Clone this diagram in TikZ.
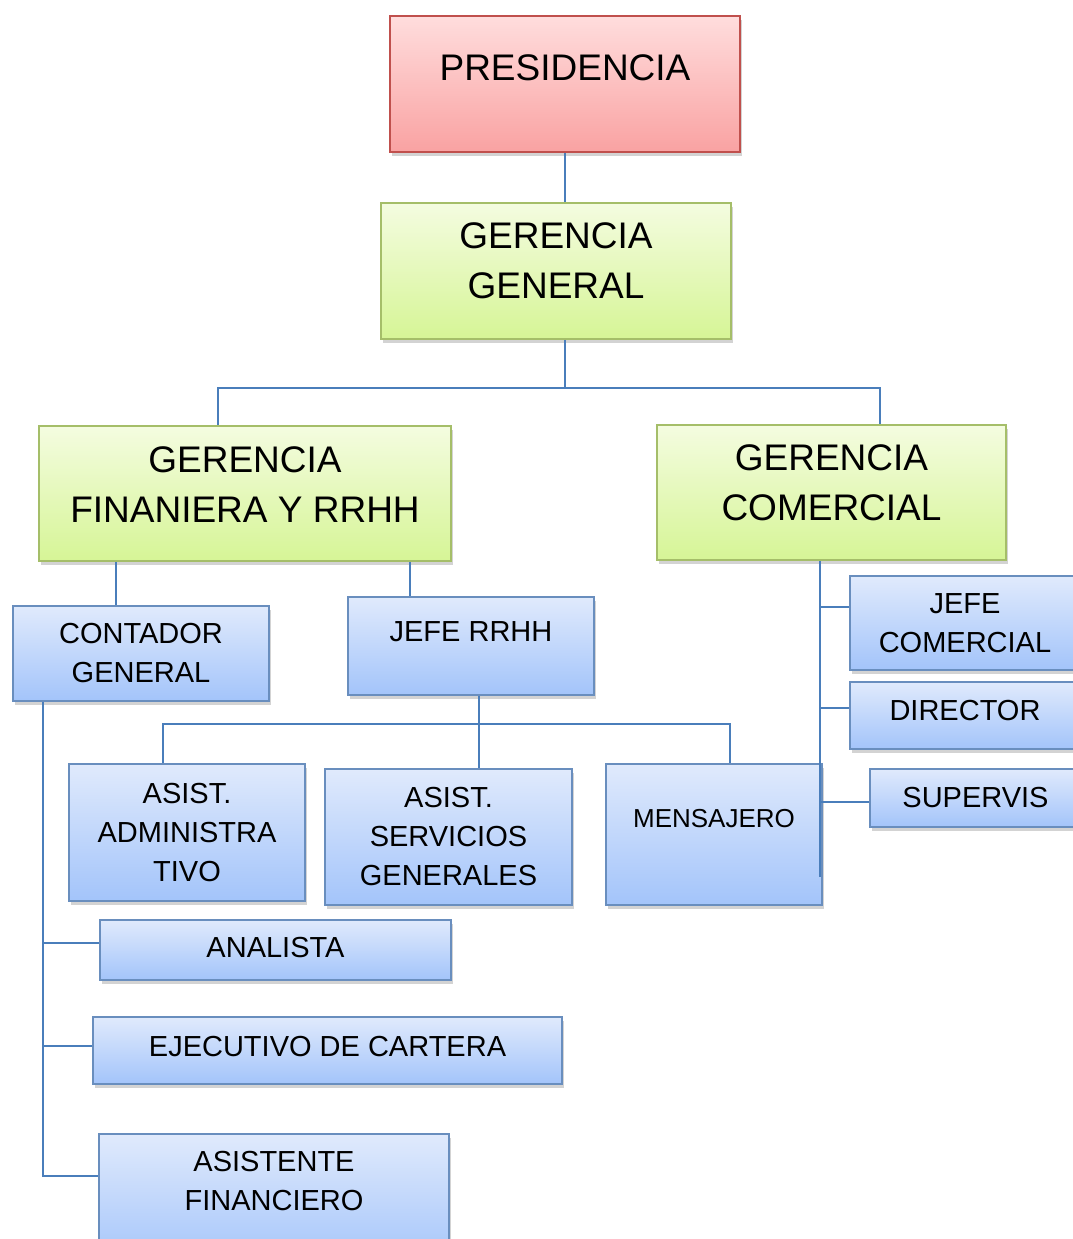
\documentclass[tikz,border=0pt]{standalone}
\usepackage{fontspec}
\setmainfont{Liberation Sans}
\usetikzlibrary{shadows}

\definecolor{presTop}{RGB}{255,221,221}
\definecolor{presBot}{RGB}{249,162,162}
\definecolor{presLine}{RGB}{192,80,77}
\definecolor{gerTop}{RGB}{244,252,224}
\definecolor{gerBot}{RGB}{214,245,150}
\definecolor{gerLine}{RGB}{165,190,105}
\definecolor{puestoTop}{RGB}{224,234,252}
\definecolor{puestoBot}{RGB}{163,196,250}
\definecolor{puestoLine}{RGB}{105,142,190}
\definecolor{linkBlue}{RGB}{74,126,187}

% extra depth below the last line, lifts the text by half of it
\newcommand\pushup[1]{\rule[-#1pt]{0pt}{#1pt}}

\begin{document}
\begin{tikzpicture}[x=1pt,y=-1pt,
    box/.style={draw, line width=1.6pt, inner sep=0pt, align=center,
      drop shadow={shadow xshift=2pt, shadow yshift=-4pt, opacity=.35}},
    redbox/.style={box, draw=presLine, top color=presTop, bottom color=presBot,
      font=\fontsize{37}{50}\selectfont},
    greenbox/.style={box, draw=gerLine, top color=gerTop, bottom color=gerBot,
      font=\fontsize{37}{50}\selectfont},
    bluebox/.style={box, draw=puestoLine, top color=puestoTop, bottom color=puestoBot,
      font=\fontsize{29}{39}\selectfont},
    link/.style={draw=linkBlue, line width=2pt}]

  \useasboundingbox (0,0) rectangle (1073,1239);
  \clip (0,0) rectangle (1073,1239);

  % direccion
  \node[redbox, minimum width=350, minimum height=136] (pres) at (565,84) {PRESIDENCIA\pushup{32}};
  \node[greenbox, minimum width=350, minimum height=136] (gg) at (556,271) {GERENCIA\\GENERAL\pushup{20}};
  \node[greenbox, minimum width=412, minimum height=135] (gfin) at (245,493.5) {GERENCIA\\FINANIERA Y RRHH\pushup{18}};
  \node[greenbox, minimum width=349, minimum height=135] (gcom) at (831.5,492.5) {GERENCIA\\COMERCIAL\pushup{19}};

  % puestos
  \node[bluebox, minimum width=256, minimum height=95] (cont) at (141,653.5) {CONTADOR\\GENERAL};
  \node[bluebox, minimum width=246, minimum height=98] (jrrhh) at (471,646) {JEFE RRHH\pushup{28}};
  \node[bluebox, minimum width=230, minimum height=94] (jcom) at (965,623) {JEFE\\COMERCIAL};
  \node[bluebox, minimum width=230, minimum height=67] (dir) at (965,715.5) {DIRECTOR\pushup{10}};
  \node[bluebox, minimum width=211, minimum height=58] (sup) at (975.5,798) {SUPERVIS};
  \node[bluebox, minimum width=236, minimum height=137] (aadm) at (187,832.5) {ASIST.\\ADMINISTRA\\TIVO};
  \node[bluebox, minimum width=247, minimum height=136] (aserv) at (448.5,837) {ASIST.\\SERVICIOS\\GENERALES};
  \node[bluebox, minimum width=216, minimum height=141, font=\fontsize{26}{35}\selectfont] (mens) at (714,834.5) {MENSAJERO\pushup{33}};
  \node[bluebox, minimum width=351, minimum height=60] (anal) at (275.5,950) {ANALISTA\pushup{6}};
  \node[bluebox, minimum width=469, minimum height=67] (ejec) at (327.5,1050.5) {EJECUTIVO DE CARTERA\pushup{9}};
  \node[bluebox, minimum width=350, minimum height=132] (afin) at (274,1200) {ASISTENTE\\FINANCIERO\pushup{39}};

  % puntos de las lineas
  \coordinate (t0) at (565,388);
  \coordinate (tl) at (218,388);
  \coordinate (tr) at (880,388);
  \coordinate (fc) at (116,583);
  \coordinate (fj) at (410,580);
  \coordinate (r0) at (479,724);
  \coordinate (rl) at (163,724);
  \coordinate (rr) at (730,724);
  \coordinate (ca) at (43,943);
  \coordinate (ce) at (43,1046);
  \coordinate (cv) at (43,1176);
  \coordinate (g1) at (820,607);
  \coordinate (g2) at (820,708);
  \coordinate (g3) at (820,802);
  \coordinate (gv) at (820,877);

  \draw[link] (pres.south) -- (gg.north -| pres.south);
  \draw[link] (gg.south -| t0) -- (t0);
  \draw[link] (gfin.north -| tl) -- (tl) -- (tr) -- (gcom.north -| tr);

  \draw[link] (gfin.south -| fc) -- (cont.north -| fc);
  \draw[link] (gfin.south -| fj) -- (jrrhh.north -| fj);

  \draw[link] (jrrhh.south -| r0) -- (aserv.north -| r0);
  \draw[link] (aadm.north -| rl) -- (rl) -- (rr) -- (mens.north -| rr);

  \draw[link, line width=1.6pt] (cont.south -| cv) -- (cv) -- (afin.west |- cv);
  \draw[link, line width=1.6pt] (ca) -- (anal.west |- ca);
  \draw[link, line width=1.6pt] (ce) -- (ejec.west |- ce);

  \draw[link] (gcom.south -| gv) -- (gv);
  \draw[link] (g1) -- (jcom.west |- g1);
  \draw[link] (g2) -- (dir.west |- g2);
  \draw[link] (g3) -- (sup.west |- g3);

\end{tikzpicture}
\end{document}
